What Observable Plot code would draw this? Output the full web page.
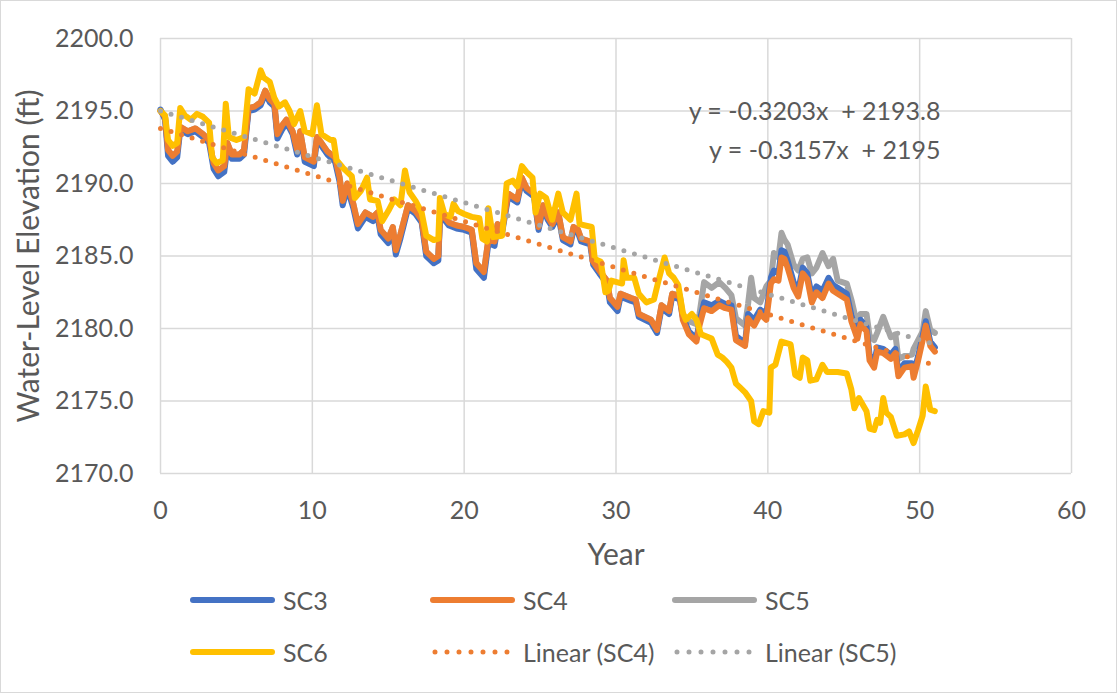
<!DOCTYPE html>
<html>
<head>
<meta charset="utf-8">
<script src="https://cdn.jsdelivr.net/npm/d3@7"></script>
<script src="https://cdn.jsdelivr.net/npm/@observablehq/plot@0.6"></script>
<style>
  body { margin: 0; background: #fff; }
  #wrap { position: relative; width: 1117px; height: 693px; overflow: hidden; font-family: Lato, "Open Sans", sans-serif; color: #595959; background: #fff; }
  #border { position: absolute; left: 0; top: 0; width: 1117px; height: 693px; box-sizing: border-box; border: 1px solid #d9d9d9; pointer-events: none; }
  .item { position: absolute; display: flex; align-items: center; height: 30px; font-size: 25px; white-space: nowrap; }
  .item span { margin-left: 8px; }
</style>
</head>
<body>
<div id="wrap"><div id="chart"></div><div id="legend"></div><div id="border"></div></div>
<script>
// ---- data (year, water-level elevation ft) ----
const sc3 = [[0,2195.1],[0.3,2194.4],[0.5,2191.9],[0.8,2191.5],[1.1,2191.8],[1.3,2193.7],[1.8,2193.4],[2.3,2193.6],[2.8,2193.2],[3.2,2192.8],[3.5,2191.0],[3.8,2190.5],[4.2,2190.8],[4.4,2192.5],[4.7,2191.7],[5.2,2191.7],[5.5,2192.0],[5.8,2195.0],[6.2,2195.1],[6.6,2195.4],[6.9,2196.2],[7.2,2195.6],[7.5,2195.3],[7.7,2193.1],[8.0,2193.7],[8.3,2194.2],[8.7,2193.4],[9.0,2192.0],[9.2,2193.4],[9.5,2191.5],[10.1,2191.2],[10.3,2193.0],[10.6,2192.6],[11.0,2192.0],[11.5,2191.5],[11.8,2190.1],[12.0,2188.5],[12.3,2189.7],[12.7,2188.3],[13.0,2186.9],[13.5,2187.7],[14.0,2187.4],[14.3,2187.7],[14.5,2186.5],[15.0,2185.9],[15.3,2186.7],[15.5,2185.1],[15.8,2186.2],[16.3,2188.3],[16.8,2187.9],[17.2,2187.3],[17.5,2185.0],[18.0,2184.5],[18.3,2184.7],[18.4,2187.4],[18.7,2187.5],[19.0,2187.1],[19.5,2186.9],[20.0,2186.8],[20.5,2186.6],[20.8,2184.1],[21.3,2183.5],[21.6,2185.9],[22.0,2185.7],[22.2,2187.0],[22.5,2186.6],[22.9,2189.1],[23.5,2188.7],[23.8,2190.2],[24.1,2189.5],[24.6,2189.1],[24.9,2186.8],[25.2,2188.3],[25.5,2187.5],[25.8,2187.0],[26.2,2187.8],[26.5,2186.1],[27.0,2185.8],[27.2,2186.8],[27.5,2186.6],[27.7,2186.0],[28.3,2185.8],[28.5,2184.4],[28.9,2183.8],[29.4,2183.1],[29.6,2181.8],[30.1,2181.2],[30.3,2182.2],[31.0,2181.9],[31.3,2181.8],[31.5,2180.8],[32.3,2180.4],[32.7,2179.7],[33.0,2181.4],[33.5,2181.0],[33.7,2182.2],[34.2,2182.0],[34.4,2180.8],[34.8,2179.8],[35.3,2179.3],[35.5,2180.5],[35.8,2181.8],[36.3,2181.6],[36.8,2181.9],[37.2,2181.7],[37.6,2181.6],[37.9,2179.5],[38.5,2179.0],[38.7,2181.0],[38.9,2180.8],[39.1,2180.6],[39.5,2181.3],[39.9,2181.0],[40.2,2183.5],[40.4,2184.0],[40.7,2183.8],[40.9,2185.4],[41.1,2185.3],[41.3,2184.7],[41.7,2183.2],[42.0,2182.6],[42.3,2184.2],[42.6,2183.8],[42.9,2182.2],[43.2,2182.9],[43.6,2182.6],[44.0,2183.5],[44.3,2183.0],[44.6,2182.8],[45.2,2182.4],[45.5,2180.9],[45.9,2179.6],[46.1,2180.6],[46.5,2180.1],[46.7,2178.2],[47.0,2177.6],[47.2,2178.7],[47.6,2178.6],[48.1,2178.2],[48.4,2178.6],[48.6,2177.0],[49.0,2177.6],[49.5,2177.6],[49.6,2176.9],[49.9,2178.1],[50.2,2179.5],[50.4,2180.5],[50.7,2179.1],[51.0,2178.7]];

const sc4 = [[0,2195.0],[0.3,2194.6],[0.5,2192.3],[0.8,2191.9],[1.1,2192.2],[1.3,2193.9],[1.8,2193.6],[2.3,2193.8],[2.8,2193.4],[3.2,2193.0],[3.5,2191.4],[3.8,2190.9],[4.2,2191.2],[4.4,2192.8],[4.7,2192.0],[5.2,2192.0],[5.5,2192.3],[5.8,2195.2],[6.2,2195.3],[6.6,2195.6],[6.9,2196.4],[7.2,2195.8],[7.5,2195.5],[7.7,2193.4],[8.0,2194.0],[8.3,2194.4],[8.7,2193.6],[9.0,2192.3],[9.2,2193.6],[9.5,2191.8],[10.1,2191.5],[10.3,2193.2],[10.6,2192.8],[11.0,2192.2],[11.5,2191.8],[11.8,2190.4],[12.0,2188.8],[12.3,2190.0],[12.7,2188.6],[13.0,2187.2],[13.5,2188.0],[14.0,2187.7],[14.3,2188.0],[14.5,2186.8],[15.0,2186.2],[15.3,2187.0],[15.5,2185.4],[15.8,2186.5],[16.3,2188.5],[16.8,2188.1],[17.2,2187.5],[17.5,2185.3],[18.0,2184.8],[18.3,2185.0],[18.4,2187.6],[18.7,2187.7],[19.0,2187.3],[19.5,2187.1],[20.0,2187.0],[20.5,2186.8],[20.8,2184.5],[21.3,2183.9],[21.6,2186.2],[22.0,2186.0],[22.2,2187.2],[22.5,2186.8],[22.9,2189.3],[23.5,2188.9],[23.8,2190.4],[24.1,2189.7],[24.6,2189.3],[24.9,2187.0],[25.2,2188.5],[25.5,2187.7],[25.8,2187.2],[26.2,2188.0],[26.5,2186.3],[27.0,2186.0],[27.2,2187.0],[27.5,2186.8],[27.7,2186.2],[28.3,2186.0],[28.5,2184.6],[28.9,2184.0],[29.4,2183.3],[29.6,2182.1],[30.1,2181.5],[30.3,2182.4],[31.0,2182.1],[31.3,2182.0],[31.5,2181.0],[32.3,2180.6],[32.7,2179.9],[33.0,2181.6],[33.5,2181.2],[33.7,2182.4],[34.2,2182.2],[34.4,2180.6],[34.8,2179.6],[35.3,2179.1],[35.5,2180.2],[35.8,2181.4],[36.3,2181.2],[36.8,2181.6],[37.2,2181.4],[37.6,2181.3],[37.9,2179.2],[38.5,2178.8],[38.7,2180.7],[38.9,2180.4],[39.1,2180.2],[39.5,2181.0],[39.9,2180.6],[40.2,2183.1],[40.4,2183.4],[40.7,2183.3],[40.9,2184.9],[41.1,2184.8],[41.3,2184.2],[41.7,2182.8],[42.0,2182.2],[42.3,2183.8],[42.6,2183.4],[42.9,2181.8],[43.2,2182.5],[43.6,2182.1],[44.0,2183.1],[44.3,2182.6],[44.6,2182.4],[45.2,2182.0],[45.5,2180.5],[45.9,2179.3],[46.1,2180.3],[46.5,2179.8],[46.7,2177.8],[47.0,2177.3],[47.2,2178.4],[47.6,2178.3],[48.1,2177.9],[48.4,2178.3],[48.6,2176.7],[49.0,2177.3],[49.5,2177.4],[49.6,2176.6],[49.9,2177.8],[50.2,2179.2],[50.4,2180.2],[50.7,2178.8],[51.0,2178.4]];

const sc5 = [[0,2195.0],[0.3,2194.6],[0.5,2192.3],[0.8,2191.9],[1.1,2192.2],[1.3,2193.9],[1.8,2193.6],[2.3,2193.8],[2.8,2193.4],[3.2,2193.0],[3.5,2191.4],[3.8,2190.9],[4.2,2191.2],[4.4,2192.8],[4.7,2192.0],[5.2,2192.0],[5.5,2192.3],[5.8,2195.2],[6.2,2195.3],[6.6,2195.6],[6.9,2196.4],[7.2,2195.8],[7.5,2195.5],[7.7,2193.4],[8.0,2194.0],[8.3,2194.4],[8.7,2193.6],[9.0,2192.3],[9.2,2193.6],[9.5,2191.8],[10.1,2191.5],[10.3,2193.2],[10.6,2192.8],[11.0,2192.2],[11.5,2191.8],[11.8,2190.4],[12.0,2188.8],[12.3,2190.0],[12.7,2188.6],[13.0,2187.2],[13.5,2188.0],[14.0,2187.7],[14.3,2188.0],[14.5,2186.8],[15.0,2186.2],[15.3,2187.0],[15.5,2185.4],[15.8,2186.5],[16.3,2188.5],[16.8,2188.1],[17.2,2187.5],[17.5,2185.3],[18.0,2184.8],[18.3,2185.0],[18.4,2187.6],[18.7,2187.7],[19.0,2187.3],[19.5,2187.1],[20.0,2187.0],[20.5,2186.8],[20.8,2184.5],[21.3,2183.9],[21.6,2186.2],[22.0,2186.0],[22.2,2187.2],[22.5,2186.8],[22.9,2189.3],[23.5,2188.9],[23.8,2190.4],[24.1,2189.7],[24.6,2189.3],[24.9,2187.0],[25.2,2188.5],[25.5,2187.7],[25.8,2187.2],[26.2,2188.0],[26.5,2186.3],[27.0,2186.0],[27.2,2187.0],[27.5,2186.8],[27.7,2186.2],[28.3,2186.0],[28.5,2184.6],[28.9,2184.0],[29.4,2183.3],[29.6,2182.1],[30.1,2181.5],[30.3,2182.4],[31.0,2182.1],[31.3,2182.0],[31.5,2181.0],[32.3,2180.6],[32.7,2179.9],[33.0,2181.6],[33.5,2181.2],[33.7,2182.4],[34.2,2182.3],[34.4,2180.9],[34.8,2180.5],[35.3,2180.3],[35.5,2181.0],[35.8,2183.2],[36.3,2182.8],[36.8,2183.2],[37.2,2182.8],[37.6,2182.3],[37.9,2180.7],[38.5,2180.2],[38.7,2181.7],[38.9,2183.5],[39.1,2182.1],[39.5,2181.8],[39.9,2182.9],[40.2,2183.3],[40.4,2185.2],[40.7,2184.9],[40.9,2186.6],[41.1,2186.1],[41.3,2185.8],[41.7,2184.4],[42.0,2184.0],[42.3,2184.8],[42.6,2184.9],[42.9,2183.8],[43.2,2184.2],[43.6,2185.2],[44.0,2184.3],[44.3,2184.8],[44.6,2183.3],[45.2,2183.1],[45.5,2182.0],[45.9,2180.2],[46.1,2181.0],[46.5,2181.0],[46.7,2179.5],[47.0,2179.2],[47.2,2179.7],[47.6,2180.8],[48.1,2179.4],[48.4,2179.6],[48.6,2177.9],[49.0,2178.1],[49.5,2178.2],[49.6,2178.6],[49.9,2179.2],[50.2,2179.8],[50.4,2181.2],[50.7,2179.9],[51.0,2179.7]];

const sc6 = [[0,2195.0],[0.3,2194.7],[0.5,2193.0],[0.8,2192.6],[1.1,2192.8],[1.3,2195.2],[1.6,2194.7],[2.0,2194.4],[2.4,2194.8],[2.8,2194.6],[3.2,2194.2],[3.4,2191.8],[3.7,2191.4],[4.1,2191.6],[4.3,2195.5],[4.5,2193.2],[5.0,2193.0],[5.5,2193.2],[5.8,2196.5],[6.2,2196.2],[6.6,2197.8],[6.8,2197.3],[7.2,2197.0],[7.5,2195.9],[7.8,2195.3],[8.2,2195.6],[8.5,2195.0],[8.8,2194.1],[9.2,2195.0],[9.5,2193.6],[10.0,2193.4],[10.3,2195.4],[10.6,2193.4],[11.2,2193.0],[11.4,2193.0],[11.6,2191.6],[12.0,2191.1],[12.6,2190.5],[12.8,2189.0],[13.2,2189.5],[13.6,2190.4],[13.8,2188.9],[14.3,2188.8],[14.6,2187.4],[15.0,2188.1],[15.4,2188.9],[15.8,2188.5],[16.1,2190.9],[16.4,2189.4],[16.8,2188.8],[17.2,2188.0],[17.5,2186.4],[18.0,2186.1],[18.3,2186.2],[18.4,2189.0],[18.7,2187.9],[19.1,2187.7],[19.3,2188.6],[19.6,2188.1],[20.0,2187.9],[20.5,2187.7],[21.0,2187.6],[21.2,2186.2],[21.5,2186.0],[21.6,2188.3],[21.9,2186.3],[22.5,2186.4],[22.8,2190.0],[23.2,2190.2],[23.5,2189.8],[23.8,2191.2],[24.1,2190.8],[24.5,2190.4],[24.7,2188.0],[25.0,2189.3],[25.4,2189.0],[25.8,2187.5],[26.2,2189.3],[26.5,2188.0],[27.0,2187.5],[27.4,2189.3],[27.6,2187.2],[28.4,2187.0],[28.6,2184.8],[29.0,2184.6],[29.3,2182.5],[29.5,2182.6],[29.7,2183.3],[30.4,2183.1],[30.5,2184.7],[30.7,2183.5],[31.2,2183.5],[31.5,2182.4],[32.0,2181.8],[32.5,2182.0],[32.8,2183.3],[33.2,2184.9],[33.5,2183.8],[33.8,2183.5],[34.1,2183.0],[34.4,2181.1],[34.6,2180.6],[35.0,2181.0],[35.3,2180.6],[35.6,2179.6],[36.3,2179.3],[36.7,2178.2],[37.0,2178.0],[37.3,2177.7],[37.6,2177.3],[37.9,2176.2],[38.2,2175.9],[38.5,2175.6],[38.9,2175.0],[39.1,2173.6],[39.4,2173.4],[39.7,2174.3],[40.1,2174.2],[40.2,2177.3],[40.5,2177.5],[40.9,2179.1],[41.5,2178.9],[41.8,2176.8],[42.1,2176.6],[42.3,2178.0],[42.6,2177.8],[42.8,2176.4],[43.2,2176.5],[43.6,2177.5],[43.9,2177.0],[44.3,2177.0],[44.6,2177.0],[45.2,2176.9],[45.5,2175.8],[45.7,2174.5],[46.0,2175.2],[46.5,2174.3],[46.7,2173.1],[47.0,2173.0],[47.2,2173.7],[47.4,2173.5],[47.6,2175.2],[47.8,2174.2],[48.1,2173.9],[48.5,2172.6],[49.0,2172.7],[49.3,2172.9],[49.6,2172.1],[49.9,2173.0],[50.2,2174.0],[50.4,2176.0],[50.7,2174.4],[51.0,2174.3]];

// linear trendlines (from the equations printed on the chart)
const trendNames = ["Linear (SC4)", "Linear (SC5)"];
const trendSlopes = [-0.3203, -0.3157];
const trendIntercepts = [2193.8, 2195];
const trendRange = [0, 51];

const xTicks = [0, 10, 20, 30, 40, 50, 60];
const yTicks = [2170, 2175, 2180, 2185, 2190, 2195, 2200];
const xTitle = "Year";
const yTitle = "Water-Level Elevation (ft)";

const seriesNames = ["SC3", "SC4", "SC5", "SC6"];
const colors = {SC3: "#4472C4", SC4: "#ED7D31", SC5: "#A5A5A5", SC6: "#FFC000", "Linear (SC4)": "#ED7D31", "Linear (SC5)": "#A5A5A5"};

// ---- build ----
const trendPts = trendNames.map((n, i) => trendRange.map(x => ({x, y: trendIntercepts[i] + trendSlopes[i] * x, name: n})));
const eqText = (i) => `y = ${trendSlopes[i]}x \u00A0+ ${trendIntercepts[i]}`;

const lineOpts = (color) => ({x: d => d[0], y: d => d[1], stroke: color, strokeWidth: 6, strokeLinejoin: "round", strokeLinecap: "round"});

const chart = Plot.plot({
  width: 1117,
  height: 575,
  marginTop: 38,
  marginLeft: 160,
  marginRight: 46,
  marginBottom: 102,
  x: {domain: [0, 60]},
  y: {domain: [2170, 2200]},
  style: {fontFamily: "Lato, 'Open Sans', sans-serif", fontSize: "25px", color: "#595959", background: "white", overflow: "visible"},
  marks: [
    Plot.ruleX(xTicks, {stroke: "#d9d9d9", strokeWidth: 1.5}),
    Plot.ruleY(yTicks, {stroke: "#d9d9d9", strokeWidth: 1.5}),
    Plot.axisX({ticks: xTicks, tickSize: 0, tickPadding: 28, label: null, fontSize: 25, tickFormat: d => String(d)}),
    Plot.axisY({ticks: yTicks, tickSize: 0, tickPadding: 27, label: null, fontSize: 25, tickFormat: d => d.toFixed(1)}),
    Plot.line(sc5, lineOpts(colors.SC5)),
    Plot.line(sc3, lineOpts(colors.SC3)),
    Plot.line(sc4, lineOpts(colors.SC4)),
    Plot.line(sc6, lineOpts(colors.SC6)),
    ...trendPts.map(pts => Plot.line(pts, {x: "x", y: "y", stroke: colors[pts[0].name], strokeWidth: 5, strokeDasharray: "0 11", strokeLinecap: "round"})),
    Plot.text([eqText(0)], {frameAnchor: "top-right", dx: -131, dy: 73, textAnchor: "end", lineAnchor: "middle", fontSize: 25, fill: "#595959"}),
    Plot.text([eqText(1)], {frameAnchor: "top-right", dx: -131, dy: 112, textAnchor: "end", lineAnchor: "middle", fontSize: 25, fill: "#595959"}),
    Plot.text([xTitle], {frameAnchor: "bottom", dy: 82, lineAnchor: "middle", fontSize: 30, fill: "#595959"}),
    Plot.text([yTitle], {frameAnchor: "left", dx: -131, dy: 0, rotate: -90, textAnchor: "middle", lineAnchor: "middle", fontSize: 30, fill: "#595959"})
  ]
});
document.getElementById("chart").appendChild(chart);

// ---- legend (HTML, below the SVG) ----
const legendItems = [...seriesNames, ...trendNames];
const colLefts = [190, 430, 672];
const rowCenters = [600, 652];
const legend = document.getElementById("legend");
legendItems.forEach((name, i) => {
  const col = i % 3, row = Math.floor(i / 3);
  const dotted = name.startsWith("Linear");
  const div = document.createElement("div");
  div.className = "item";
  div.style.left = colLefts[col] + "px";
  div.style.top = (rowCenters[row] - 15) + "px";
  div.innerHTML = `<svg width="85" height="10"><line x1="${dotted ? 5 : 3}" x2="${dotted ? 80 : 82}" y1="5" y2="5" stroke="${colors[name]}" stroke-width="${dotted ? 5 : 6}" stroke-linecap="round" ${dotted ? 'stroke-dasharray="0 12"' : ''}/></svg><span>${name}</span>`;
  legend.appendChild(div);
});
</script>
</body>
</html>
